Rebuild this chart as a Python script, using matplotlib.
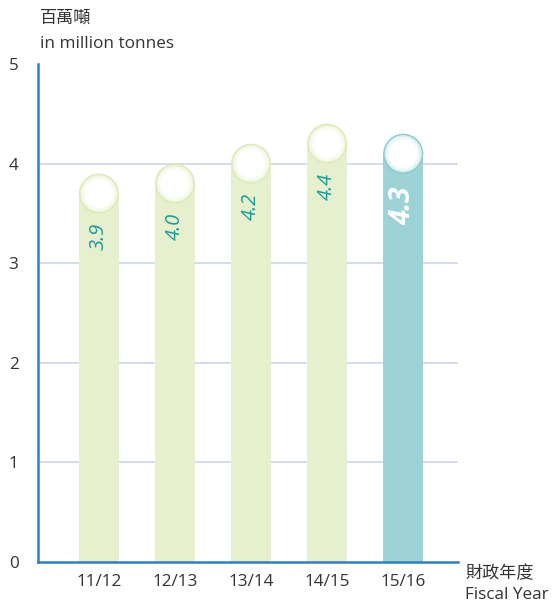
import matplotlib.pyplot as plt
from matplotlib.patches import Ellipse

plt.rcParams['font.family'] = ['Open Sans', 'Noto Sans CJK TC', 'DejaVu Sans']

years = ["11/12", "12/13", "13/14", "14/15", "15/16"]
values = [3.9, 4.0, 4.2, 4.4, 4.3]
labels = ["3.9", "4.0", "4.2", "4.4", "4.3"]
y_ticks = [0, 1, 2, 3, 4, 5]

W, H = 553, 603
fig = plt.figure(figsize=(W / 100, H / 100), dpi=100)
ax = fig.add_axes([38 / W, (H - 562) / H, (458 - 38) / W, (562 - 64) / H])

xlim = (-0.80, 4.72)
ylim = (0, 5)
ax.set_xlim(*xlim)
ax.set_ylim(*ylim)

# pixel -> data scaling so the caps are round
ax_w_px = 458 - 38
ax_h_px = 562 - 64
px_x = (xlim[1] - xlim[0]) / ax_w_px
px_y = (ylim[1] - ylim[0]) / ax_h_px

bar_w = 40 * px_x
r_y = 20 * px_y

green = "#e6f0cf"
teal = "#9dd3d6"

for y in [1, 2, 3, 4]:
    ax.axhline(y, color="#cdd6e8", lw=1.2, zorder=0)

for i, v in enumerate(values):
    last = i == len(values) - 1
    fc = teal if last else green
    edge = "#8cc9cc" if last else "#dbe9b8"
    ax.bar(i, v - r_y, width=bar_w, color=fc, zorder=2)
    # round cap with soft glow
    ax.add_patch(Ellipse((i, v - r_y), bar_w, 2 * r_y, facecolor=edge,
                         edgecolor="none", zorder=3))
    for k, a in [(0.93, "#eef5dc" if not last else "#d8eeef"),
                 (0.85, "#f7fbef" if not last else "#eef8f8"),
                 (0.72, "white")]:
        ax.add_patch(Ellipse((i, v - r_y), bar_w * k, 2 * r_y * k,
                             facecolor=a, edgecolor="none", zorder=4))
    if last:
        ax.text(i, v - 0.72, labels[i], rotation=90, ha="center", va="center",
                color="white", fontsize=20, fontweight="bold", fontstyle="italic",
                zorder=5)
    else:
        ax.text(i, v - 0.63, labels[i], rotation=90, ha="center", va="center",
                color="#1a9a9a", fontsize=14.5, fontstyle="italic", zorder=5)

for s in ["top", "right"]:
    ax.spines[s].set_visible(False)
for s in ["left", "bottom"]:
    ax.spines[s].set_color("#2f7fc1")
    ax.spines[s].set_linewidth(1.8)

ax.set_yticks(y_ticks)
ax.set_yticklabels([str(t) for t in y_ticks])
ax.set_xticks(range(len(years)))
ax.set_xticklabels(years)
ax.tick_params(axis="both", length=0, colors="#333333", labelsize=12.3)
ax.tick_params(axis="y", pad=14)
ax.tick_params(axis="x", pad=9)

fig.text(40 / W, 1 - 18 / H, "百萬噸", fontsize=12.3, color="#333333",
         va="center", ha="left", family=["Noto Sans CJK TC", "DejaVu Sans"])
fig.text(40 / W, 1 - 44 / H, "in million tonnes", fontsize=12.3,
         color="#333333", va="center", ha="left")
fig.text(465 / W, 1 - 573 / H, "財政年度", fontsize=12.3, color="#333333",
         va="center", ha="left", family=["Noto Sans CJK TC", "DejaVu Sans"])
fig.text(465 / W, 1 - 595 / H, "Fiscal Year", fontsize=12.3,
         color="#333333", va="center", ha="left")

fig.savefig("out.png", dpi=100)
